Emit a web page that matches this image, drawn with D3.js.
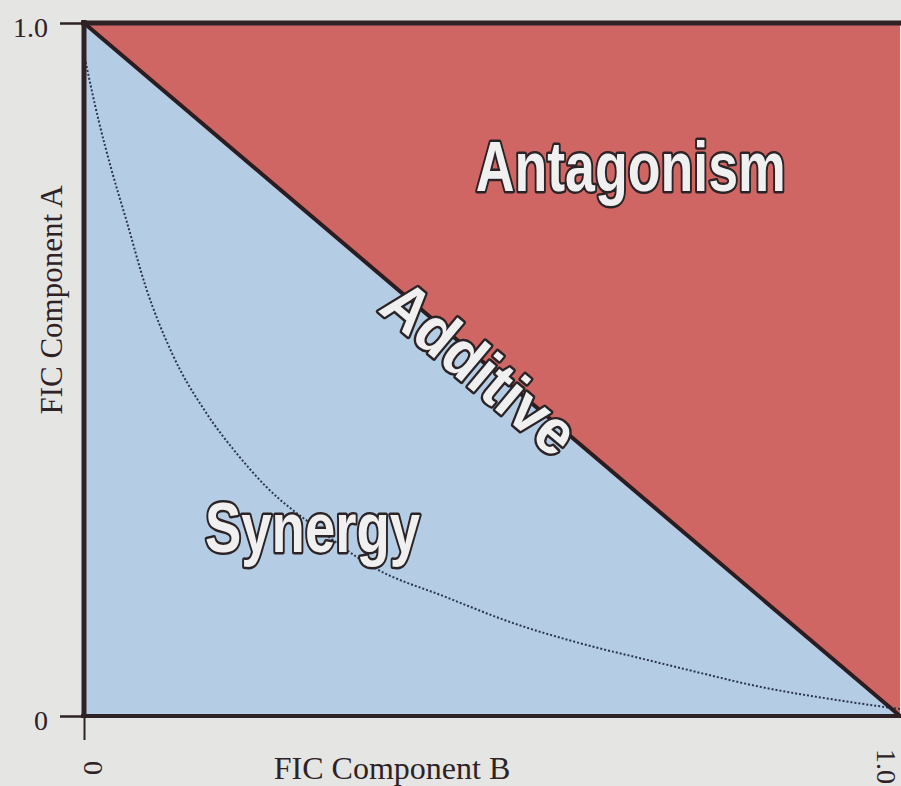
<!DOCTYPE html>
<html>
<head>
<meta charset="utf-8">
<script src="https://cdn.jsdelivr.net/npm/d3@7"></script>
<style>
  body { margin: 0; background: #e5e5e3; }
  svg { display: block; }
</style>
</head>
<body>
<div id="chart"></div>
<script>
/* CONSTANTS AND GLOBALS */
const width = 901,
  height = 786;

/* DATA */
// isobologram curve (dotted)
const curveB = [0, 0.018, 0.034, 0.052, 0.076, 0.108, 0.150, 0.187, 0.224, 0.289, 0.354, 0.445, 0.526, 0.608, 0.690, 0.756, 0.817, 0.940, 1.0];
const curveA = [0.955, 0.859, 0.787, 0.715, 0.618, 0.523, 0.437, 0.379, 0.330, 0.268, 0.215, 0.171, 0.134, 0.105, 0.081, 0.062, 0.045, 0.020, 0.010];

const xTicks = [0, 1];
const xTickLabels = ["0", "1.0"];
const yTicks = [0, 1];
const yTickLabels = ["0", "1.0"];

// additive line: FIC A + FIC B = 1
const additiveB = [0, 1];
const additiveA = [1, 0];

const regionNames = ["Antagonism", "Additive", "Synergy"];
const regionB = [0.670, 0.486, 0.280];
const regionA = [0.757, 0.503, 0.236];

/* SCALES */
const xScale = d3.scaleLinear()
  .domain([0, 1])
  .range([84, 900]);

const yScale = d3.scaleLinear()
  .domain([0, 1])
  .range([716, 23]);

/* SVG */
const svg = d3.select("#chart")
  .append("svg")
  .attr("width", width)
  .attr("height", height)
  .style("background-color", "#e5e5e3");

const serif = "'Liberation Serif', 'Times New Roman', serif";
const ink = "#2e2226";

// synergy (whole plot area, blue)
const area = d3.line().x(d => xScale(d[0])).y(d => yScale(d[1]));
svg.append("path")
  .attr("d", area([[0, 0], [0, 1], [1, 1], [1, 0]]) + "Z")
  .attr("fill", "#b5cde4");

// antagonism (above the additive line, red)
svg.append("path")
  .attr("d", area([[0, 1], [1, 1], [1, 0]]) + "Z")
  .attr("fill", "#cf6664");

// dotted curve
const curvePts = curveB.map((b, i) => [b, curveA[i]]);
svg.append("path")
  .attr("d", d3.line()
    .x(d => xScale(d[0]))
    .y(d => yScale(d[1]))
    .curve(d3.curveMonotoneX)(curvePts))
  .attr("fill", "none")
  .attr("stroke", "#2a3550")
  .attr("stroke-width", 2)
  .attr("stroke-dasharray", "2 2");

// additive line
svg.append("path")
  .attr("d", area(additiveB.map((b, i) => [b, additiveA[i]])))
  .attr("fill", "none")
  .attr("stroke", "#2a1c20")
  .attr("stroke-width", 4);

/* REGION LABELS */
const labelSizes = [70, 64, 70];
const labelLengths = [310, 232, 215];
const labelAngles = [0, 40, 0];

regionNames.forEach((name, i) => {
  svg.append("text")
    .attr("transform", `translate(${xScale(regionB[i])},${yScale(regionA[i])}) rotate(${labelAngles[i]})`)
    .attr("text-anchor", "middle")
    .attr("dy", labelAngles[i] ? "0.36em" : 0)
    .attr("textLength", labelLengths[i])
    .attr("lengthAdjust", "spacingAndGlyphs")
    .style("font-family", "'Liberation Sans', Arial, sans-serif")
    .style("font-weight", "bold")
    .style("font-size", labelSizes[i] + "px")
    .style("fill", "#f1f0f0")
    .style("stroke", "#2b2326")
    .style("stroke-width", 5)
    .style("stroke-linejoin", "round")
    .style("paint-order", "stroke fill")
    .text(name);
});

/* AXES */
// y axis
const yAxis = svg.append("g")
  .attr("class", "y-axis")
  .attr("transform", `translate(${xScale(0)},0)`)
  .call(d3.axisLeft(yScale)
    .tickValues(yTicks)
    .tickFormat((d, i) => yTickLabels[i])
    .tickSize(24)
    .tickSizeOuter(0)
    .tickPadding(12));

yAxis.select(".domain")
  .attr("stroke", ink)
  .attr("stroke-width", 5)
  .attr("d", `M0,${yScale(1) - 3}V${yScale(0) + 2}`);
yAxis.selectAll(".tick line")
  .attr("stroke", ink)
  .attr("stroke-width", 2.5);
yAxis.selectAll(".tick text")
  .attr("dy", "0.48em")
  .style("font-family", serif)
  .style("font-size", "28px")
  .style("fill", ink);

// x axis
const xAxis = svg.append("g")
  .attr("class", "x-axis")
  .attr("transform", `translate(0,${yScale(0)})`)
  .call(d3.axisBottom(xScale)
    .tickValues(xTicks)
    .tickFormat((d, i) => xTickLabels[i])
    .tickSize(24)
    .tickSizeOuter(0));

xAxis.select(".domain")
  .attr("stroke", ink)
  .attr("stroke-width", 4)
  .attr("d", `M${xScale(0) - 3},0H${width}`);
xAxis.selectAll(".tick line")
  .attr("stroke", ink)
  .attr("stroke-width", 2)
  .attr("opacity", d => d === 0 ? 1 : 0);
xAxis.selectAll(".tick text")
  .attr("transform", "rotate(90)")
  .attr("text-anchor", "start")
  .attr("x", d => d === 0 ? 45 : 33)
  .attr("y", d => d === 0 ? 1 : 24)
  .attr("dy", 0)
  .style("font-family", serif)
  .style("font-size", "28px")
  .style("fill", ink);

// top frame line
svg.append("line")
  .attr("x1", xScale(0) - 3)
  .attr("x2", width)
  .attr("y1", yScale(1))
  .attr("y2", yScale(1))
  .attr("stroke", ink)
  .attr("stroke-width", 5);

/* AXIS TITLES */
svg.append("text")
  .attr("transform", "translate(62,300) rotate(-90)")
  .attr("text-anchor", "middle")
  .style("font-family", serif)
  .style("font-size", "31px")
  .style("fill", ink)
  .text("FIC Component A");

svg.append("text")
  .attr("x", 392)
  .attr("y", 779)
  .attr("text-anchor", "middle")
  .style("font-family", serif)
  .style("font-size", "32px")
  .style("fill", ink)
  .text("FIC Component B");
</script>
</body>
</html>
